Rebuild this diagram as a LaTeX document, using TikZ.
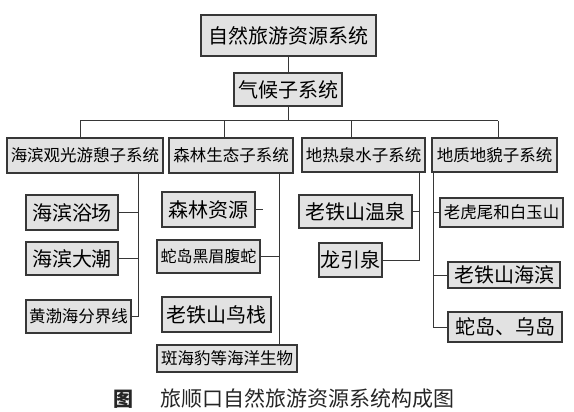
\documentclass[tikz,border=0pt]{standalone}
\usepackage{fontspec}
\newfontfamily\cjk{Noto Sans CJK SC}
\definecolor{boxfill}{RGB}{226,226,226}
\definecolor{ink}{RGB}{55,55,55}
\tikzset{
  box/.style={draw=ink, line width=1.2pt, fill=boxfill, inner sep=0pt, text=black},
  conn/.style={draw=ink, line width=1pt},
  capt/.style={inner sep=0pt, text=black!85}
}
\newcommand{\bx}[7]{\node[box, minimum width={#4-#2}, minimum height={#5-#3}, font={\cjk\fontsize{#6}{#6}\selectfont}] (#1) at ({(#2+#4)/2},{-(#3+#5)/2}) {#7};}
\begin{document}
\begin{tikzpicture}[x=1pt,y=1pt]
\fill[white] (0,0) rectangle (574,-412);
\useasboundingbox (0,0) rectangle (574,-412);
% level 1 and 2
\bx{top}{201}{15}{376}{56}{20}{自然旅游资源系统}
\bx{clim}{234}{73}{342}{106}{20}{气候子系统}
% level 3
\bx{s1}{7}{138}{163}{173}{16.5}{海滨观光游憩子系统}
\bx{s2}{169}{138}{293}{173}{16.5}{森林生态子系统}
\bx{s3}{302}{138}{425}{172}{16.5}{地热泉水子系统}
\bx{s4}{432}{138}{557}{172}{16.5}{地质地貌子系统}
% leaves
\bx{a1}{26}{195}{118}{230}{20}{海滨浴场}
\bx{a2}{26}{242}{118}{275}{20}{海滨大潮}
\bx{a3}{26}{300}{131}{333}{16.5}{黄渤海分界线}
\bx{b1}{162}{192}{255}{227}{20}{森林资源}
\bx{b2}{157}{240}{260}{273}{16}{蛇岛黑眉腹蛇}
\bx{b3}{162}{297}{271}{332}{20}{老铁山鸟栈}
\bx{b4}{157}{345}{297}{372}{16.5}{斑海豹等海洋生物}
\bx{c1}{299}{195}{412}{228}{20}{老铁山温泉}
\bx{c2}{319}{243}{382}{277}{20}{龙引泉}
\bx{d1}{440}{198}{563}{227}{16.5}{老虎尾和白玉山}
\bx{d2}{448}{262}{560}{288}{20}{老铁山海滨}
\bx{d3}{448}{312}{562}{342}{20}{蛇岛、乌岛}
% connectors top
\draw[conn] (clim.north) -- (clim.north |- top.south);
\coordinate (bus) at (288,-121);
\coordinate (bL) at (80,-121);
\coordinate (bB) at (224,-121);
\coordinate (bC) at (351,-121);
\coordinate (bR) at (498,-121);
\draw[conn] (clim.south) -- (bus);
\draw[conn] (bL) -- (bR);
\draw[conn] (bL) -- (bL |- s1.north);
\draw[conn] (bB) -- (bB |- s2.north);
\draw[conn] (bC) -- (bC |- s3.north);
\draw[conn] (bR) -- (bR |- s4.north);
% branch 1
\coordinate (v1) at (138,-173);
\draw[conn] (v1) |- (a3.east);
\draw[conn] (a1.east) -- (a1.east -| v1);
\draw[conn] (a2.east) -- (a2.east -| v1);
% branch 2
\coordinate (v2) at (279,-173);
\coordinate (st) at (263,-209.5);
\draw[conn] (v2) -- (v2 |- b4.north);
\draw[conn] (b2.east) -- (b2.east -| v2);
\draw[conn] (b1.east) -- (st);
% branch 3
\coordinate (v3) at (419,-172);
\draw[conn] (v3) |- (c2.east);
\draw[conn] (c1.east) -- (c1.east -| v3);
% branch 4
\coordinate (v4) at (433,-172);
\draw[conn] (v4) |- (d3.west);
\draw[conn] (d1.west) -- (d1.west -| v4);
\draw[conn] (d2.west) -- (d2.west -| v4);
% caption
\node[capt, font={\cjk\bfseries\fontsize{20}{20}\selectfont}] (capfig) at (123,-399) {图};
\node[capt, anchor=west, font={\cjk\fontsize{21}{21}\selectfont}] (captext) at (160,-399) {旅顺口自然旅游资源系统构成图};
\end{tikzpicture}
\end{document}
